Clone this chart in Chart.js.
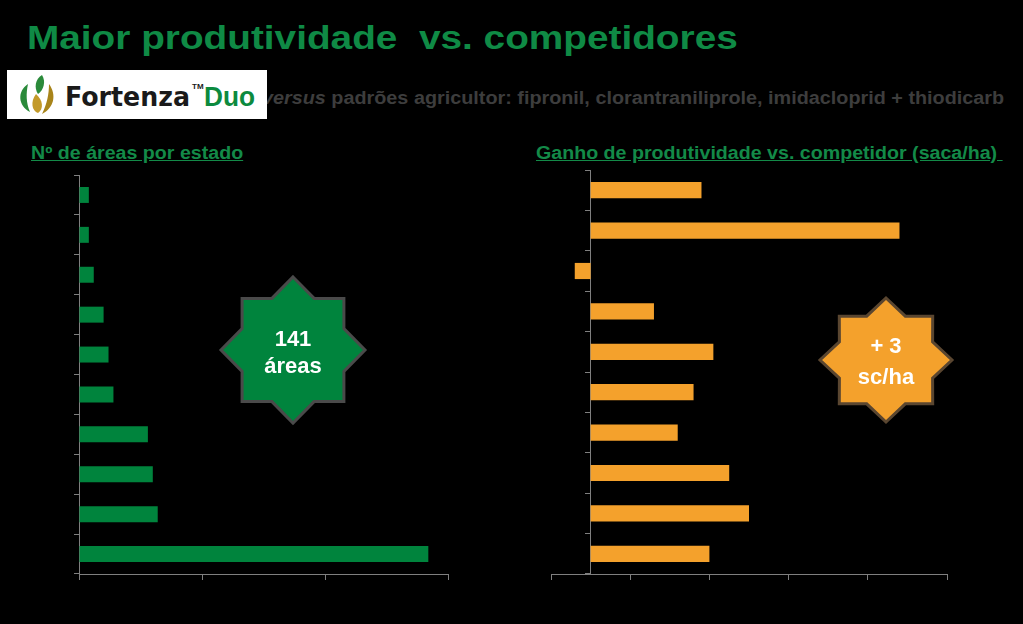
<!DOCTYPE html>
<html>
<head>
<meta charset="utf-8">
<script src="https://cdn.jsdelivr.net/npm/chart.js@4"></script>
<style>
  body { margin: 0; background: #000; width: 1023px; height: 624px; overflow: hidden; position: relative; font-family: "Liberation Sans", Arial, sans-serif; }
  .abs { position: absolute; transform-origin: 0 0; line-height: 1; }
  #title { left: 27px; top: 20px; font-size: 34px; font-weight: bold; color: #0f8a45; white-space: pre; transform: scaleX(1.14); }
  #sub { left: 262px; top: 89px; font-size: 18px; font-weight: bold; color: #3d3d3d; white-space: nowrap; transform: scaleX(1.1); }
  #logo { left: 7px; top: 70px; width: 260px; height: 49px; background: #fff; }
  .hdr { top: 144px; font-size: 18px; font-weight: bold; color: #138a48; text-decoration: underline; white-space: pre; transform: scaleX(1.09); }
  svg { position: absolute; left: 0; top: 0; }
</style>
</head>
<body>
<div id="title" class="abs">Maior produtividade  vs. competidores</div>
<div id="sub" class="abs"><i>versus</i> padrões agricultor: fipronil, clorantraniliprole, imidacloprid + thiodicarb</div>
<div id="logo" class="abs">
  <svg width="260" height="49" viewBox="0 0 260 49">
    <path d="M21 14 C10 21 11 36 23 42 C19 33 19 23 21 14 Z" fill="#2a8a3a"/>
    <path d="M35 5 C28 9 27 18 31 24 C37 20 39 11 35 5 Z" fill="#2a8a3a"/>
    <path d="M42 14 C50 25 47 38 35 44 C40 34 42 24 42 14 Z" fill="#a8841a"/>
    <path d="M29 24 C23 32 25 41 31 43 C37 39 36 30 29 24 Z" fill="#c39a2a"/>
    <text x="58" y="36" textLength="125" lengthAdjust="spacingAndGlyphs" font-family="DejaVu Sans, Liberation Sans" font-weight="bold" font-size="26" fill="#1a1a1a">Fortenza</text>
    <text x="185" y="19" font-family="Liberation Sans, Arial" font-weight="bold" font-size="8" fill="#1a1a1a">TM</text>
    <text x="197" y="36" textLength="51" lengthAdjust="spacingAndGlyphs" font-family="Liberation Sans, Arial" font-weight="bold" font-size="27" fill="#0c8a3e">Duo</text>
  </svg>
</div>
<div class="abs hdr" style="left:31px">Nº de áreas por estado</div>
<div class="abs hdr" style="left:536px">Ganho de produtividade vs. competidor (saca/ha) </div>

<canvas id="left" class="abs" style="left:64px;top:170px" width="390" height="414"></canvas>
<canvas id="right" class="abs" style="left:540px;top:165px" width="420" height="420"></canvas>

<svg id="stars" width="1023" height="624"></svg>

<script>
const states = ['Estado 1', 'Estado 2', 'Estado 3', 'Estado 4', 'Estado 5', 'Estado 6', 'Estado 7', 'Estado 8', 'Estado 9', 'Estado 10'];
const areas = [2, 2, 3, 5, 6, 7, 14, 15, 16, 71];
const gains = [2.8, 7.8, -0.4, 1.6, 3.1, 2.6, 2.2, 3.5, 4.0, 3.0];

const axisGray = '#7f7f7f';

function baseOptions(xMin, xMax, step, yPos, pad) {
  return {
    indexAxis: 'y',
    responsive: false,
    animation: false,
    layout: { padding: pad },
    plugins: { legend: { display: false }, tooltip: { enabled: false } },
    scales: {
      x: {
        min: xMin, max: xMax,
        ticks: { display: false, stepSize: step },
        grid: { drawOnChartArea: false, tickLength: 6, color: axisGray },
        border: { color: axisGray, width: 1 }
      },
      y: {
        position: yPos,
        ticks: { display: false },
        grid: { drawOnChartArea: false, offset: true, tickLength: 5, color: axisGray },
        border: { color: axisGray, width: 1 }
      }
    }
  };
}

new Chart(document.getElementById('left'), {
  type: 'bar',
  data: {
    labels: states,
    datasets: [{ data: areas, backgroundColor: '#00843d', barPercentage: 0.4, categoryPercentage: 1 }]
  },
  options: baseOptions(0, 75, 25, 'left', { left: 10, right: 6, top: 5, bottom: 4 })
});

new Chart(document.getElementById('right'), {
  type: 'bar',
  data: {
    labels: states,
    datasets: [{ data: gains, backgroundColor: '#f4a12c', barPercentage: 0.4, categoryPercentage: 1 }]
  },
  options: baseOptions(-1, 9, 2, { x: 0 }, { left: 11, right: 13, top: 5, bottom: 5 })
});

// 8-point star badges
function star(cx, cy, rx, ry, fill, stroke, lines, ys) {
  const pts = [];
  for (let i = 0; i < 16; i++) {
    const a = -Math.PI / 2 + i * Math.PI / 8;
    const r = i % 2 === 0 ? 1 : 0.765;
    pts.push((cx + Math.cos(a) * rx * r).toFixed(1) + ',' + (cy + Math.sin(a) * ry * r).toFixed(1));
  }
  let s = `<polygon points="${pts.join(' ')}" fill="${fill}" stroke="${stroke}" stroke-width="3" stroke-linejoin="miter"/>`;
  lines.forEach((t, i) => {
    s += `<text x="${cx}" y="${ys[i]}" text-anchor="middle" font-family="Liberation Sans, Arial" font-weight="bold" font-size="22" fill="#fff">${t}</text>`;
  });
  return s;
}
document.getElementById('stars').innerHTML =
  star(293, 350, 72, 73, '#00843d', '#4a4a4a', ['141', 'áreas'], [346, 373]) +
  star(886, 360, 66, 62, '#f4a12c', '#5a4630', ['+ 3', 'sc/ha'], [353, 384]);
</script>
</body>
</html>
